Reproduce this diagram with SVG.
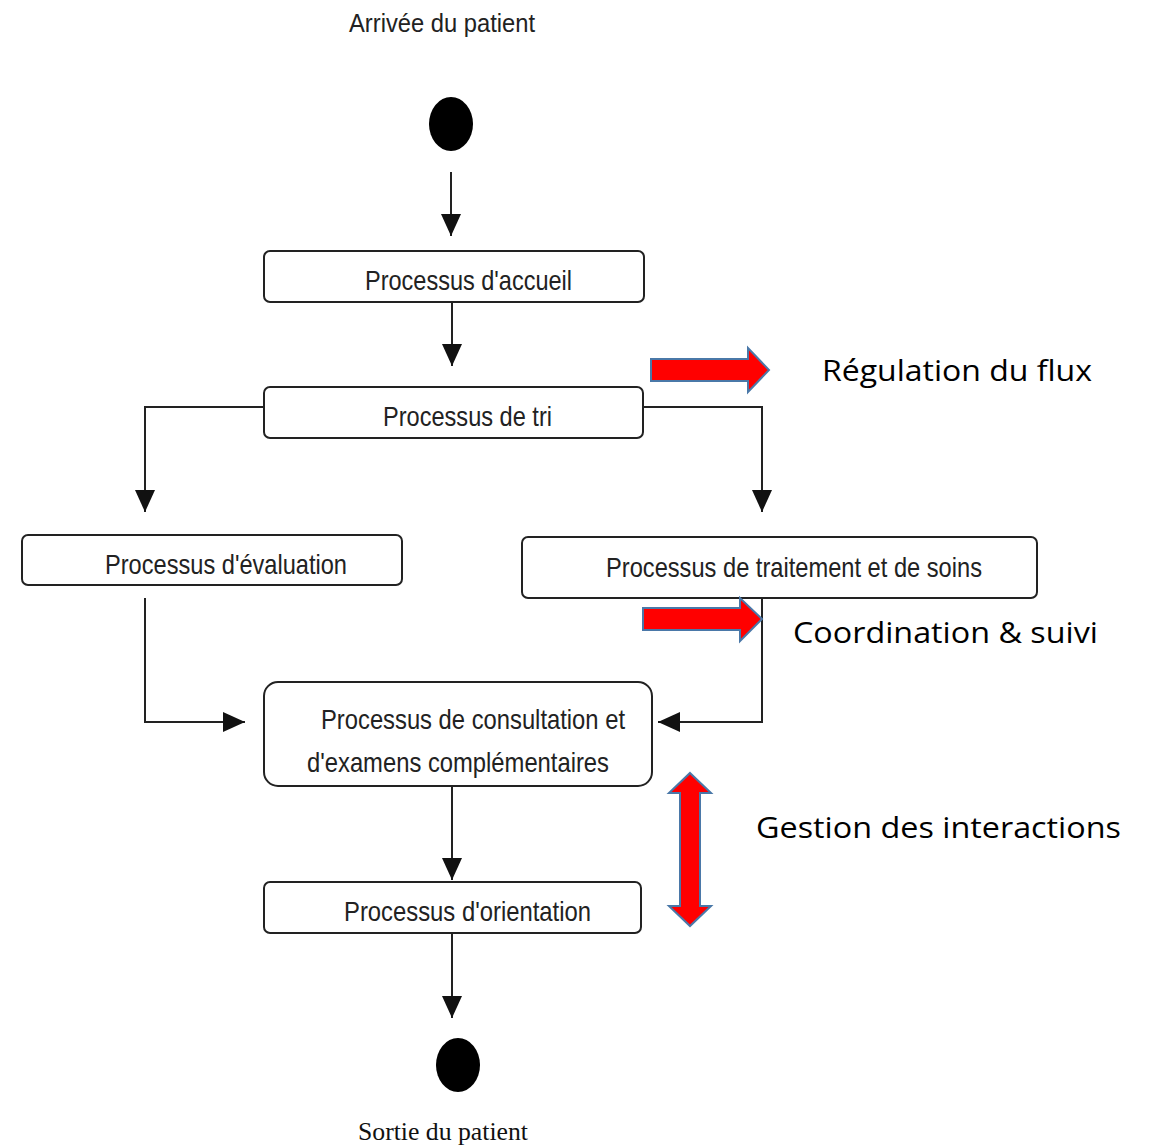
<svg xmlns="http://www.w3.org/2000/svg" width="1151" height="1148" viewBox="0 0 1151 1148">
<style>
.box{fill:#fff;stroke:#222;stroke-width:2}
.lbl{font-family:"Liberation Sans",Arial,sans-serif;font-size:28px;fill:#222}
.term{font-family:"Liberation Sans",Arial,sans-serif;font-size:25px;fill:#222}
.serif{font-family:"Liberation Serif","Times New Roman",serif;font-size:26px;fill:#111}
.note{font-family:"Open Sans","Liberation Sans",sans-serif;font-size:29px;fill:#000}
.con{fill:none;stroke:#222;stroke-width:2}
.red{fill:#ff0000;stroke:#4a78a8;stroke-width:2;stroke-linejoin:miter}
</style>
<defs>
<marker id="ah" viewBox="0 0 22 20" refX="22" refY="10" markerWidth="22" markerHeight="20" markerUnits="userSpaceOnUse" orient="auto">
<path d="M0,0 L22,10 L0,20 z" fill="#111"/>
</marker>
</defs>
<rect width="1151" height="1148" fill="#fff"/>

<g id="start">
<text class="term" x="349" y="32" textLength="186" lengthAdjust="spacingAndGlyphs">Arrivée du patient</text>
<ellipse cx="451" cy="124" rx="22" ry="27" fill="#000"/>
</g>

<g id="accueil">
<rect class="box" x="264" y="251" width="380" height="51" rx="6"/>
<text class="lbl" x="365" y="290" textLength="207" lengthAdjust="spacingAndGlyphs">Processus d'accueil</text>
</g>

<g id="tri">
<rect class="box" x="264" y="387" width="379" height="51" rx="6"/>
<text class="lbl" x="383" y="426" textLength="169" lengthAdjust="spacingAndGlyphs">Processus de tri</text>
</g>

<g id="evaluation">
<rect class="box" x="22" y="535" width="380" height="50" rx="6"/>
<text class="lbl" x="105" y="574" textLength="242" lengthAdjust="spacingAndGlyphs">Processus d'évaluation</text>
</g>

<g id="traitement">
<rect class="box" x="522" y="537" width="515" height="61" rx="6"/>
<text class="lbl" x="606" y="577" textLength="376" lengthAdjust="spacingAndGlyphs">Processus de traitement et de soins</text>
</g>

<g id="consultation">
<rect class="box" x="264" y="682" width="388" height="104" rx="14"/>
<text class="lbl" x="321" y="729" textLength="304" lengthAdjust="spacingAndGlyphs">Processus de consultation et</text>
<text class="lbl" x="307" y="772" textLength="302" lengthAdjust="spacingAndGlyphs">d'examens complémentaires</text>
</g>

<g id="orientation">
<rect class="box" x="264" y="882" width="377" height="51" rx="6"/>
<text class="lbl" x="344" y="921" textLength="247" lengthAdjust="spacingAndGlyphs">Processus d'orientation</text>
</g>

<g id="end">
<ellipse cx="458" cy="1065" rx="22" ry="27" fill="#000"/>
<text class="serif" x="358" y="1140" textLength="170" lengthAdjust="spacingAndGlyphs">Sortie du patient</text>
</g>

<g id="connectors">
<path class="con" d="M451,172 V236" marker-end="url(#ah)"/>
<path class="con" d="M452,302 V366" marker-end="url(#ah)"/>
<path class="con" d="M264,407 H145 V512" marker-end="url(#ah)"/>
<path class="con" d="M643,407 H762 V512" marker-end="url(#ah)"/>
<path class="con" d="M145,598 V722 H245" marker-end="url(#ah)"/>
<path class="con" d="M762,598 V722 H658" marker-end="url(#ah)"/>
<path class="con" d="M452,786 V880" marker-end="url(#ah)"/>
<path class="con" d="M452,933 V1018" marker-end="url(#ah)"/>
</g>

<g id="annotations">
<polygon class="red" points="651,359 748,359 748,348 769,370 748,392 748,381 651,381"/>
<text class="note" x="822" y="381" textLength="270" lengthAdjust="spacingAndGlyphs">Régulation du flux</text>
<polygon class="red" points="643,608 740,608 740,598 762,619 740,641 740,630 643,630"/>
<text class="note" x="793" y="643" textLength="305" lengthAdjust="spacingAndGlyphs">Coordination &amp; suivi</text>
<polygon class="red" points="690,773 711,793 700,793 700,906 711,906 690,926 669,906 680,906 680,793 669,793"/>
<text class="note" x="756" y="838" textLength="365" lengthAdjust="spacingAndGlyphs">Gestion des interactions</text>
</g>
</svg>
